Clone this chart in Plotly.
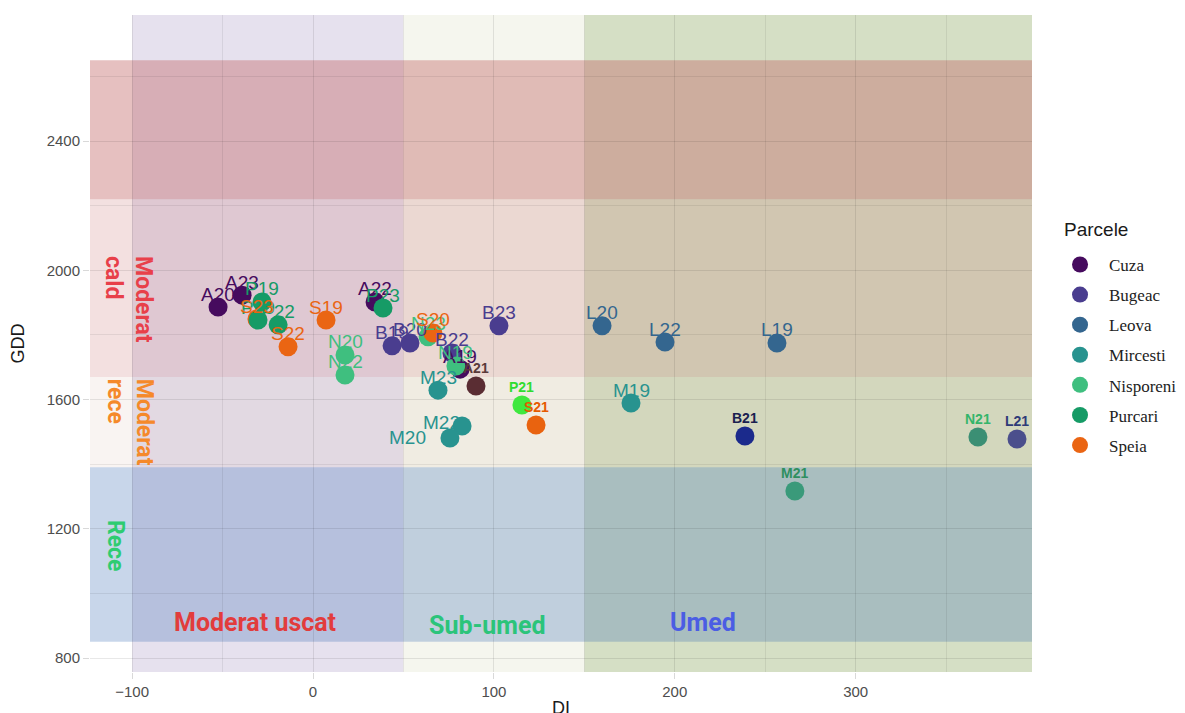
import plotly.graph_objects as go

# --- data ---
PARCELS = ["Cuza", "Bugeac", "Leova", "Mircesti", "Nisporeni", "Purcari", "Speia"]
PARCEL_COLORS = ["#460b5e", "#4a3d8f", "#34668f", "#28938f", "#3fbf7f", "#169b66", "#ea6513"]
DRAW_ORDER = ["Cuza", "Bugeac", "Leova", "Mircesti", "Nisporeni", "Speia", "Purcari"]

LABELS = ["A20", "A23", "A22", "A19",
          "B19", "B20", "B22", "B23",
          "L20", "L22", "L19",
          "M23", "M22", "M20", "M19",
          "N20", "N22", "N23", "N19",
          "P19", "P20", "P22", "P23",
          "S19", "S23", "S22", "S20"]
PARCEL = ["Cuza"] * 4 + ["Bugeac"] * 4 + ["Leova"] * 3 + ["Mircesti"] * 4 \
    + ["Nisporeni"] * 4 + ["Purcari"] * 4 + ["Speia"] * 4
DI = [-52.5, -39.2, 34.3, 81.3,
      43.7, 53.6, 76.8, 102.8,
      159.8, 194.6, 256.5,
      69.1, 82.4, 75.7, 175.8,
      17.7, 17.7, 63.6, 79.0,
      -28.2, -30.4, -19.3, 38.7,
      7.2, -31.0, -13.8, 66.3]
GDD = [1886, 1923, 1902, 1694,
       1766, 1775, 1744, 1828,
       1828, 1778, 1775,
       1629, 1518, 1481, 1589,
       1738, 1676, 1794, 1704,
       1902, 1846, 1831, 1883,
       1846, 1849, 1763, 1806]

# year 2021 points, highlighted separately
HL_LABELS = ["A21", "B21", "L21", "M21", "N21", "P21", "S21"]
HL_DI = [90.1, 238.8, 389.2, 266.4, 367.6, 115.5, 123.3]
HL_GDD = [1642, 1487, 1478, 1317, 1484, 1583, 1521]
HL_POINT_COLORS = ["#5a2d33", "#1b2a8c", "#4b4f8c", "#3a9a7a", "#3b8f74", "#3fe83f", "#e9630f"]
HL_TEXT_COLORS = ["#5a3a3a", "#1a2050", "#2e3a78", "#2f8f5f", "#33b56a", "#2fdc2f", "#e65a00"]

# background zones
DI_ZONES = [(-100, 50), (50, 150), (150, 420)]
DI_ZONE_COLORS = ["#e6e1ee", "#f5f6ee", "#d5dfc5"]
GDD_ZONES = [(2220, 2650), (1670, 2220), (1390, 1670), (850, 1390)]
GDD_ZONE_COLORS = ["rgba(195,105,105,0.42)", "rgba(195,100,100,0.2)",
                   "rgba(195,145,125,0.1)", "rgba(53,105,178,0.27)"]

# label nudges in pixels (repelled labels)
LABEL_NUDGE = {"M22": (-21, 4), "M20": (-42, 0)}

color_of = dict(zip(PARCELS, PARCEL_COLORS))
TEXT_FONT = "Liberation Sans, Arial, sans-serif"
ZONE_FONT = "Roboto, Liberation Sans, sans-serif"

fig = go.Figure()

for name in DRAW_ORDER:
    idx = [i for i, p in enumerate(PARCEL) if p == name]
    fig.add_trace(go.Scatter(
        x=[DI[i] for i in idx], y=[GDD[i] for i in idx],
        mode="markers", name=name,
        marker=dict(size=19, color=color_of[name], line=dict(width=0)),
        legendrank=PARCELS.index(name) + 1, legendgroup=name,
    ))

fig.add_trace(go.Scatter(
    x=HL_DI, y=HL_GDD, mode="markers", showlegend=False,
    marker=dict(size=19, color=HL_POINT_COLORS, line=dict(width=0)),
))

# point labels
for lab, p, x, y in zip(LABELS, PARCEL, DI, GDD):
    dx, dy = LABEL_NUDGE.get(lab, (0, 13))
    fig.add_annotation(x=x, y=y, text=lab, showarrow=False, xshift=dx, yshift=dy,
                       font=dict(family=TEXT_FONT, size=19, color=color_of[p]))
for lab, x, y, c in zip(HL_LABELS, HL_DI, HL_GDD, HL_TEXT_COLORS):
    fig.add_annotation(x=x, y=y, text=f"<b>{lab}</b>", showarrow=False, yshift=18,
                       font=dict(family=TEXT_FONT, size=14, color=c))

# zone shapes
for (x0, x1), c in zip(DI_ZONES, DI_ZONE_COLORS):
    fig.add_shape(type="rect", xref="x", yref="paper", x0=x0, x1=x1, y0=0, y1=1,
                  fillcolor=c, line_width=0, layer="below")
for (y0, y1), c in zip(GDD_ZONES, GDD_ZONE_COLORS):
    fig.add_shape(type="rect", xref="paper", yref="y", x0=0, x1=1, y0=y0, y1=y1,
                  fillcolor=c, line_width=0, layer="below")

# zone names
for txt, x, y, c in [("Moderat uscat", -32, 911, "#e23c3c"),
                     ("Sub-umed", 96.7, 902, "#2bc47a"),
                     ("Umed", 215.6, 911, "#4b5de4")]:
    fig.add_annotation(x=x, y=y, text=f"<b>{txt}</b>", showarrow=False,
                       font=dict(family=ZONE_FONT, size=25, color=c))
for txt, x, y, c in [("Moderat<br>cald", -102.3, 1908, "#e8404a"),
                     ("Moderat<br>rece", -101.0, 1530, "#f5892a"),
                     ("Rece", -109.5, 1147, "#2ecc71")]:
    fig.add_annotation(x=x, y=y, text=f"<b>{txt}</b>", showarrow=False, textangle=90,
                       align="left", font=dict(family=ZONE_FONT, size=23, color=c))

# legend title
fig.add_annotation(xref="paper", yref="paper", x=1.0318, y=0.692, xanchor="left",
                   text="Parcele", showarrow=False,
                   font=dict(family=TEXT_FONT, size=19, color="#1a1a1a"))

grid = dict(showgrid=True, gridcolor="rgba(0,0,0,0.09)", gridwidth=1.2, zeroline=False,
            showline=False, ticks="outside", ticklen=6, tickcolor="rgba(0,0,0,0.15)",
            tickfont=dict(family=TEXT_FONT, size=15, color="#4d4d4d"), automargin=False)

fig.update_xaxes(range=[-123.3, 397.5], tickvals=[-100, 0, 100, 200, 300],
                 minor=dict(tickvals=[-50, 50, 150, 250, 350], showgrid=True,
                            gridcolor="rgba(0,0,0,0.07)", gridwidth=1),
                 title=dict(text="DI", standoff=2,
                            font=dict(family=TEXT_FONT, size=18, color="#1a1a1a")),
                 **grid)
fig.update_yaxes(range=[756.7, 2790], tickvals=[800, 1200, 1600, 2000, 2400],
                 minor=dict(tickvals=[1000, 1400, 1800, 2200, 2600], showgrid=True,
                            gridcolor="rgba(0,0,0,0.07)", gridwidth=1),
                 title=dict(text="GDD", standoff=18,
                            font=dict(family=TEXT_FONT, size=18, color="#1a1a1a")),
                 **grid)

fig.update_layout(
    width=1185, height=713,
    margin=dict(l=82, r=161, t=7, b=49),
    plot_bgcolor="white", paper_bgcolor="white",
    legend=dict(x=1.0202, y=0.647, xanchor="left", yanchor="top",
                font=dict(family="Liberation Serif, Times New Roman, serif", size=17, color="#222"),
                tracegroupgap=5, itemsizing="trace", itemwidth=48,
                bgcolor="rgba(0,0,0,0)"),
)

fig.write_html("out.html")
